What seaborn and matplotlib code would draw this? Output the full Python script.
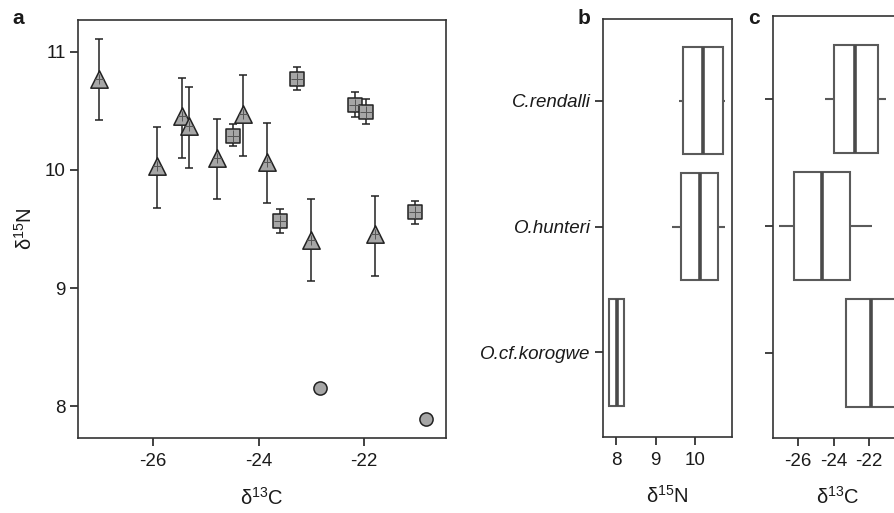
import matplotlib
matplotlib.use("Agg")
import matplotlib.pyplot as plt
import seaborn as sns
import pandas as pd
import numpy as np

# ---------------- data ----------------
species = ["C.rendalli", "O.hunteri", "O.cf.korogwe"]

# panel a: means with vertical error bars (lower, upper bounds)
hunteri_c = [-27.02, -25.93, -25.45, -25.32, -24.79, -24.30, -23.84, -23.00, -21.79]
hunteri_n = [10.77, 10.03, 10.46, 10.37, 10.10, 10.47, 10.07, 9.41, 9.46]
hunteri_lo = [10.42, 9.68, 10.10, 10.02, 9.75, 10.12, 9.72, 9.06, 9.10]
hunteri_hi = [11.11, 10.36, 10.78, 10.70, 10.43, 10.80, 10.40, 9.75, 9.78]

rendalli_c = [-23.27, -24.48, -23.59, -22.18, -21.97, -21.04]
rendalli_n = [10.77, 10.29, 9.57, 10.55, 10.49, 9.64]
rendalli_lo = [10.68, 10.20, 9.47, 10.45, 10.39, 9.54]
rendalli_hi = [10.87, 10.39, 9.67, 10.66, 10.60, 9.74]

korogwe_c = [-22.84, -20.82]
korogwe_n = [8.15, 7.89]

# panel b: d15N box summaries (min, q1, median, q3, max)
n15_rendalli = [9.58, 9.70, 10.20, 10.71, 10.75]
n15_hunteri = [9.41, 9.65, 10.11, 10.57, 10.75]
n15_korogwe = [7.81, 7.81, 8.01, 8.19, 8.19]

# panel c: d13C box summaries (min, q1, median, q3, max)
c13_rendalli = [-24.46, -24.00, -22.79, -21.53, -21.08]
c13_hunteri = [-27.03, -26.19, -24.63, -23.06, -21.85]
c13_korogwe = [-23.30, -23.30, -21.90, -20.50, -20.50]

# ---------------- style ----------------
sns.set_theme(style="ticks")
plt.rcParams["font.family"] = ["Liberation Sans", "DejaVu Sans"]
plt.rcParams["mathtext.fontset"] = "custom"
plt.rcParams["mathtext.rm"] = "Liberation Sans"
plt.rcParams["mathtext.default"] = "regular"

FS = 13.5
SPINE = "#333333"
BOXLINE = "#5a5a5a"
FILL = "#a6a6a6"
TXT = "#1a1a1a"

fig = plt.figure(figsize=(8.94, 5.13), dpi=100)
W, H = 894, 513

def axes_px(l, t, r, b):
    return fig.add_axes([l / W, 1 - b / H, (r - l) / W, (b - t) / H])

ax_a = axes_px(78, 20, 446, 438)
ax_b = axes_px(602.7, 19, 731.7, 436.7)
ax_c = axes_px(773.3, 16, 902.3, 437.7)

def style_axes(ax):
    for s in ax.spines.values():
        s.set_color(SPINE)
        s.set_linewidth(1.2)
        s.set_visible(True)
    ax.tick_params(direction="out", length=5.7, width=1.3, color=SPINE,
                   labelsize=FS, labelcolor=TXT, pad=3)
    ax.tick_params(axis="x", pad=5)

# ---------------- panel a ----------------
def errs(y, lo, hi):
    y = np.asarray(y); return [y - np.asarray(lo), np.asarray(hi) - y]

ax_a.errorbar(hunteri_c, hunteri_n, yerr=errs(hunteri_n, hunteri_lo, hunteri_hi),
              fmt="none", ecolor="#222222", elinewidth=1.1, capsize=3, capthick=1.1, zorder=1)
ax_a.errorbar(rendalli_c, rendalli_n, yerr=errs(rendalli_n, rendalli_lo, rendalli_hi),
              fmt="none", ecolor="#222222", elinewidth=1.1, capsize=3, capthick=1.1, zorder=1)

sns.scatterplot(x=hunteri_c, y=hunteri_n, marker="^", s=12.5**2, color=FILL,
                edgecolor="#222222", linewidth=1.1, ax=ax_a, zorder=3)
sns.scatterplot(x=hunteri_c, y=hunteri_n, marker="+", s=7**2, color="#555555",
                linewidth=0.7, ax=ax_a, zorder=4)
sns.scatterplot(x=rendalli_c, y=rendalli_n, marker="s", s=9.5**2, color=FILL,
                edgecolor="#222222", linewidth=1.1, ax=ax_a, zorder=3)
sns.scatterplot(x=rendalli_c, y=rendalli_n, marker="+", s=8.5**2, color="#555555",
                linewidth=0.7, ax=ax_a, zorder=4)
sns.scatterplot(x=korogwe_c, y=korogwe_n, marker="o", s=9.5**2, color=FILL,
                edgecolor="#222222", linewidth=1.1, ax=ax_a, zorder=3)

ax_a.set_xlim(-27.42, -20.45)
ax_a.set_ylim(7.73, 11.27)
ax_a.set_xticks([-26, -24, -22])
ax_a.set_yticks([8, 9, 10, 11])
ax_a.set_xticklabels(["-26", "-24", "-22"])
ax_a.set_xlabel(r"δ$^{13}$C", fontsize=FS + 1, labelpad=12, color=TXT)
ax_a.set_ylabel(r"δ$^{15}$N", fontsize=FS + 1, labelpad=7, color=TXT)
style_axes(ax_a)

# ---------------- panel b / c ----------------
def box_df(vals):
    rows = []
    for sp, v in zip(species, vals):
        for x in v:
            rows.append({"species": sp, "value": x})
    return pd.DataFrame(rows)

df_b = box_df([n15_rendalli, n15_hunteri, n15_korogwe])
df_c = box_df([c13_rendalli, c13_hunteri, c13_korogwe])

box_kw = dict(orient="h", order=species, whis=(0, 100), width=0.85, color="white",
              linecolor=BOXLINE, linewidth=1.5, showcaps=False, fliersize=0,
              medianprops={"linewidth": 2.6, "color": "#4a4a4a"})

sns.boxplot(data=df_b, x="value", y="species", ax=ax_b, **box_kw)
sns.boxplot(data=df_c, x="value", y="species", ax=ax_c, **box_kw)

ax_b.set_xlim(7.66, 10.92)
ax_b.set_ylim(2.67, -0.65)
ax_b.set_xticks([8, 9, 10])
ax_b.set_xlabel(r"δ$^{15}$N", fontsize=FS + 1, labelpad=12, color=TXT)
ax_b.set_ylabel("")
style_axes(ax_b)
for t in ax_b.get_yticklabels():
    t.set_fontstyle("italic")

ax_c.set_xlim(-27.37, -20.15)
ax_c.set_ylim(2.67, -0.65)
ax_c.set_xticks([-26, -24, -22])
ax_c.set_xticklabels(["-26", "-24", "-22"])
ax_c.set_xlabel(r"δ$^{13}$C", fontsize=FS + 1, labelpad=12, color=TXT)
ax_c.set_ylabel("")
ax_c.set_yticklabels([])
style_axes(ax_c)

# panel letters
fig.text(12 / W, 1 - 18 / H, "a", fontsize=15, fontweight="bold", va="center", color=TXT)
fig.text(578 / W, 1 - 18 / H, "b", fontsize=15, fontweight="bold", va="center", color=TXT)
fig.text(748 / W, 1 - 18 / H, "c", fontsize=15, fontweight="bold", va="center", color=TXT)

fig.savefig("out.png", dpi=100)
